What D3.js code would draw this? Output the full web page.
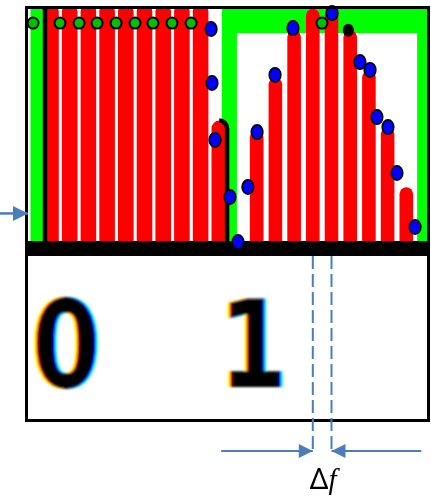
<!DOCTYPE html>
<html>
<head>
<meta charset="utf-8">
<script src="https://cdn.jsdelivr.net/npm/d3@7"></script>
<style>
  html, body { margin: 0; padding: 0; background: #fff; }
  svg { display: block; }
  .chroma { mix-blend-mode: multiply; }
</style>
</head>
<body>
<script>
// Subcarrier index and bar amplitude per subcarrier
const carriers   = d3.range(20);
const amplitudes = [1, 1, 1, 1, 1, 1, 1, 1, 1, 0.51, 0, 0.47, 0.69, 0.89, 0.98, 0.98, 0.89, 0.72, 0.48, 0.23];

// Sampled spectrum points: position (in subcarrier units) and amplitude
const samplePos = [8.56, 8.61, 8.77, 9.57, 10.0, 10.53, 11.02, 11.98, 12.94, 15.03, 16.52, 17.06, 17.43, 18.02, 18.5, 19.47];
const sampleAmp = [0.895, 0.668, 0.429, 0.189, 0.0, 0.231, 0.462, 0.702, 0.899, 0.962, 0.756, 0.723, 0.525, 0.483, 0.29, 0.063];

// Dark-edged points lying on the envelope level
const edgePos = [15.9];
const edgeAmp = [0.89];

// Envelope markers between carriers and the envelope outline
const envPos    = [-0.96, 0.48, 1.5, 2.46, 3.48, 4.49, 5.45, 6.47, 7.49, 14.49];
const envLevel  = 0.92;
const envEdges  = [-0.75, 9.54, 19.9];

// Bit labels and where each symbol starts
const bits   = ["0", "1"];
const bitPos = [0.8, 10.8];

// Carrier spacing annotation
const spacingPair  = [14, 15];
const spacingLabel = ["Δ", "f"];

const W = 431, H = 496;
const frame = { left: 25, top: 6, right: 430, bottom: 422 };
const baseY = 242;

const svg = d3.select("body").append("svg")
  .attr("width", W).attr("height", H)
  .style("isolation", "isolate");

const x = d3.scaleLinear().domain([0, 19]).range([51, 406.3]);
const y = d3.scaleLinear().domain([0, 1]).range([baseY, 4]);

const defs = svg.append("defs");
defs.append("clipPath").attr("id", "plotClip")
  .append("rect").attr("x", 28).attr("y", 9).attr("width", 399).attr("height", baseY - 9);
defs.append("filter").attr("id", "soft")
  .attr("x", "-5%").attr("y", "-5%").attr("width", "110%").attr("height", "110%")
  .append("feGaussianBlur").attr("stdDeviation", 0.7);
defs.append("filter").attr("id", "softText")
  .attr("x", "-20%").attr("y", "-20%").attr("width", "140%").attr("height", "140%")
  .append("feGaussianBlur").attr("stdDeviation", 0.9);

const arrowColor = "#4a7ebb";
defs.append("marker").attr("id", "arrowHead")
  .attr("viewBox", "0 0 10 10").attr("refX", 10).attr("refY", 5)
  .attr("markerUnits", "userSpaceOnUse")
  .attr("markerWidth", 15).attr("markerHeight", 14)
  .attr("orient", "auto")
  .append("path").attr("d", "M0,0 L10,5 L0,10 Z").attr("fill", arrowColor);
defs.append("marker").attr("id", "arrowHeadBig")
  .attr("viewBox", "0 0 10 10").attr("refX", 10).attr("refY", 5)
  .attr("markerUnits", "userSpaceOnUse")
  .attr("markerWidth", 15).attr("markerHeight", 17)
  .attr("orient", "auto")
  .append("path").attr("d", "M0,0 L10,5 L0,10 Z").attr("fill", arrowColor);

// ---- upper panel: spectrum ----
const plot = svg.append("g").attr("clip-path", "url(#plotClip)")
  .append("g").attr("filter", "url(#soft)");

// green envelope outline
const gw = [13, 15, 12];
envEdges.forEach((e, i) => {
  plot.append("rect")
    .attr("x", x(e) - gw[i] / 2).attr("y", 0)
    .attr("width", gw[i]).attr("height", baseY + 10)
    .attr("rx", gw[i] / 2)
    .attr("fill", "#00ff00");
});
plot.append("rect")
  .attr("x", x(envEdges[1]) - gw[1] / 2).attr("y", 0)
  .attr("width", x(envEdges[2]) + gw[2] / 2 - (x(envEdges[1]) - gw[1] / 2))
  .attr("height", y(envLevel) + 10)
  .attr("fill", "#00ff00");

// red subcarrier bars
const barW = k => (k < 10 ? 15.6 : 13.6);
plot.selectAll("rect.bar").data(carriers.filter(k => amplitudes[k] > 0))
  .join("rect").attr("class", "bar")
  .attr("x", k => x(k) - barW(k) / 2)
  .attr("y", k => y(amplitudes[k]))
  .attr("width", barW)
  .attr("height", k => baseY + 12 - y(amplitudes[k]))
  .attr("rx", k => barW(k) / 2)
  .attr("fill", "#ff0000");

// black symbol edges
plot.append("line")
  .attr("x1", x(0) - 6).attr("x2", x(0) - 6)
  .attr("y1", 0).attr("y2", baseY)
  .attr("stroke", "#000").attr("stroke-width", 4.5);
{
  const k = 9, r = barW(k) / 2, top = y(amplitudes[k]);
  plot.append("path")
    .attr("d", `M${x(k) + r},${baseY} L${x(k) + r},${top + r} A${r},${r} 0 0 0 ${x(k)},${top}`)
    .attr("fill", "none").attr("stroke", "#000").attr("stroke-width", 4.5);
}

// envelope markers
plot.selectAll("circle.env").data(envPos)
  .join("circle").attr("class", "env")
  .attr("cx", d => x(d)).attr("cy", y(envLevel)).attr("r", 5.5)
  .attr("fill", "#00c000").attr("stroke", "#000").attr("stroke-width", 2);

plot.selectAll("ellipse.edge").data(edgePos)
  .join("ellipse").attr("class", "edge")
  .attr("cx", d => x(d)).attr("cy", (d, i) => y(edgeAmp[i]))
  .attr("rx", 5.5).attr("ry", 6.5).attr("fill", "#000");

// black axis band
svg.append("rect")
  .attr("x", frame.left).attr("y", baseY - 1)
  .attr("width", frame.right - frame.left).attr("height", 15)
  .attr("fill", "#000");

// blue sampled spectrum points (drawn over the axis band)
svg.append("g").attr("filter", "url(#soft)")
  .selectAll("ellipse").data(samplePos)
  .join("ellipse")
  .attr("cx", d => x(d)).attr("cy", (d, i) => y(sampleAmp[i]))
  .attr("rx", 5.8).attr("ry", 7.2)
  .attr("fill", "#0000ff").attr("stroke", "#000").attr("stroke-width", 1.6);

// outer frame
svg.append("rect")
  .attr("x", frame.left + 1.5).attr("y", frame.top + 1.5)
  .attr("width", frame.right - frame.left - 3).attr("height", frame.bottom - frame.top - 3)
  .attr("fill", "none").attr("stroke", "#000").attr("stroke-width", 3);

// ---- lower panel: bit labels, drawn as three colour planes multiplied together ----
const bitG = svg.append("g").attr("filter", "url(#softText)");
const planes = [
  { dx: -2.2, color: "#ffff00" },
  { dx: 0,    color: "#ff00ff" },
  { dx: 2.2,  color: "#00ffff" }
];
bits.forEach((b, i) => {
  const g = bitG.append("g")
    .attr("transform", `translate(${x(bitPos[i])},387) scale(0.82,1)`);
  planes.forEach(p => {
    g.append("text").attr("class", "chroma")
      .attr("x", p.dx).attr("y", 0)
      .attr("text-anchor", "middle")
      .attr("font-family", "DejaVu Sans")
      .attr("font-weight", "bold")
      .attr("font-size", 122)
      .attr("fill", p.color)
      .text(b);
  });
});

// ---- carrier spacing annotation ----
spacingPair.forEach(k => {
  svg.append("line")
    .attr("x1", x(k)).attr("x2", x(k))
    .attr("y1", baseY + 14).attr("y2", 449)
    .attr("stroke", arrowColor).attr("stroke-width", 2)
    .attr("stroke-dasharray", "13,5");
});
const ay = 451;
svg.append("line")
  .attr("x1", x(9.1)).attr("x2", x(spacingPair[0]))
  .attr("y1", ay).attr("y2", ay)
  .attr("stroke", arrowColor).attr("stroke-width", 2)
  .attr("marker-end", "url(#arrowHead)");
svg.append("line")
  .attr("x1", x(19.8)).attr("x2", x(spacingPair[1]))
  .attr("y1", ay).attr("y2", ay)
  .attr("stroke", arrowColor).attr("stroke-width", 2)
  .attr("marker-end", "url(#arrowHead)");

const lbl = svg.append("text")
  .attr("x", (x(spacingPair[0]) + x(spacingPair[1])) / 2 + 1)
  .attr("y", 489)
  .attr("text-anchor", "middle")
  .attr("font-size", 29)
  .attr("fill", "#000");
lbl.append("tspan").attr("font-family", "Noto Sans").text(spacingLabel[0]);
lbl.append("tspan").attr("font-family", "Liberation Serif").attr("font-style", "italic").text(spacingLabel[1]);

// pointer to the envelope edge
svg.append("line")
  .attr("x1", 0).attr("x2", x(envEdges[0]) - 9)
  .attr("y1", y(0.12)).attr("y2", y(0.12))
  .attr("stroke", arrowColor).attr("stroke-width", 2.5)
  .attr("marker-end", "url(#arrowHeadBig)");
</script>
</body>
</html>
